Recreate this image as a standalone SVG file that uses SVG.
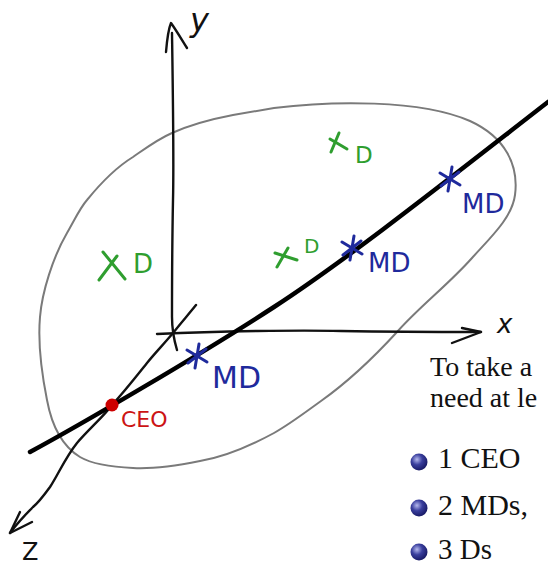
<svg xmlns="http://www.w3.org/2000/svg" width="548" height="567" viewBox="0 0 548 567">
<style>
.ax{fill:none;stroke:#111;stroke-width:2.4;stroke-linecap:round;stroke-linejoin:round}
.cloud{fill:none;stroke:#7a7a7a;stroke-width:2}
.gm{fill:none;stroke:#2f9e2f;stroke-width:3;stroke-linecap:round}
.bm{fill:none;stroke:#1f2a9c;stroke-width:3;stroke-linecap:round}
.hand{font-family:"DejaVu Sans","Liberation Sans",sans-serif}
.g{fill:#2f9e2f}
.b{fill:#1f2a9c}
.r{fill:#cc1414}
.k{fill:#111}
.serif{font-family:"Liberation Serif","DejaVu Serif",serif;fill:#111}
</style>
<defs>
<radialGradient id="ball" cx="0.38" cy="0.35" r="0.7">
<stop offset="0" stop-color="#b4b8ee"/>
<stop offset="0.45" stop-color="#3a3f9e"/>
<stop offset="1" stop-color="#141660"/>
</radialGradient>
<path id="star" d="M2,-12 L-2,12 M-10,-6 L10,6 M-9,7 L9,-7"/>
</defs>

<g id="cloud">
<path class="cloud" d="M274,108 C330,101 420,99 470,121 C505,137 519,165 515,195 C512,218 490,238 472,258 C448,285 420,306 397,332 C375,356 345,384 321,401 C303,414 290,424 274,433 C250,446 225,457 200,461 C175,466 150,469 133,468 C110,467 92,464 80,457 C62,446 52,427 47,400 C41,370 38,340 40,317 C42,292 53,257 67,233 C75,219 80,208 87,200 C100,184 115,168 133,157 C146,148 158,139 172,133 C192,124 212,119 233,115 C250,112 262,110 274,108 Z"/>
</g>

<g id="axes">
<path class="ax" d="M172,33 C173,100 174,160 173,200 C172,250 172,290 172,317 C172,330 174,340 177,350"/>
<path class="ax" stroke-width="3.5" d="M166,52 C167,40 168,30 171,23 C176,30 182,40 187,48"/>
<path class="ax" d="M157,334 C220,331 300,330 341,331 C400,332 450,332 481,332"/>
<path class="ax" d="M462,328 L481,332 L452,343"/>
<path class="ax" d="M196,305 C188,315 180,324 173,333 C163,345 155,353 147,363 C135,378 124,392 112,405 C105,415 88,430 77,443 C65,458 58,475 50,487 C42,498 38,503 33,507 C26,514 16,525 10,533"/>
<path class="ax" d="M20,512 L10,533 L32,522"/>
<text class="hand k" x="190" y="31" font-size="32" font-style="italic">y</text>
<text class="hand k" x="497" y="333" font-size="26" font-style="italic">x</text>
<text class="hand k" x="22" y="560" font-size="24">Z</text>
</g>

<g id="line">
<path fill="none" stroke="#000" stroke-width="4.5" stroke-linecap="round" d="M30,452 C80,425 200,355 274,307 S450,178 548,102"/>
</g>

<g id="directors">
<path class="gm" d="M339,133 L331,152 M330,139 L347,149"/>
<text class="hand g" x="355" y="163" font-size="23">D</text>
<path class="gm" d="M103,252 L125,279 M117,256 L99,280"/>
<text class="hand g" x="133" y="273" font-size="26">D</text>
<path class="gm" d="M288,248 L277,267 M275,253 L297,260"/>
<text class="hand g" x="304" y="253" font-size="20">D</text>
</g>

<g id="md1">
<use href="#star" class="bm" x="450" y="179"/>
<text class="hand b" x="462" y="213" font-size="26">MD</text>
</g>
<g id="md2">
<use href="#star" class="bm" x="352" y="248"/>
<text class="hand b" x="368" y="272" font-size="26">MD</text>
</g>
<g id="md3">
<use href="#star" class="bm" x="197" y="356"/>
<text class="hand b" x="212" y="388" font-size="30">MD</text>
</g>

<g id="ceo">
<circle cx="112" cy="405" r="6.5" fill="#cc0000"/>
<text class="hand r" x="121" y="427" font-size="22">CEO</text>
</g>

<g id="caption">
<text class="serif" x="430" y="376" font-size="28">To take a</text>
<text class="serif" x="430" y="407" font-size="28">need at le</text>
<circle cx="419" cy="462" r="8.5" fill="url(#ball)"/>
<text class="serif" x="438" y="468" font-size="30">1 CEO</text>
<circle cx="419" cy="508" r="8.5" fill="url(#ball)"/>
<text class="serif" x="438" y="515" font-size="30">2 MDs,</text>
<circle cx="419" cy="552" r="8.5" fill="url(#ball)"/>
<text class="serif" x="438" y="559" font-size="29">3 Ds</text>
</g>
</svg>
